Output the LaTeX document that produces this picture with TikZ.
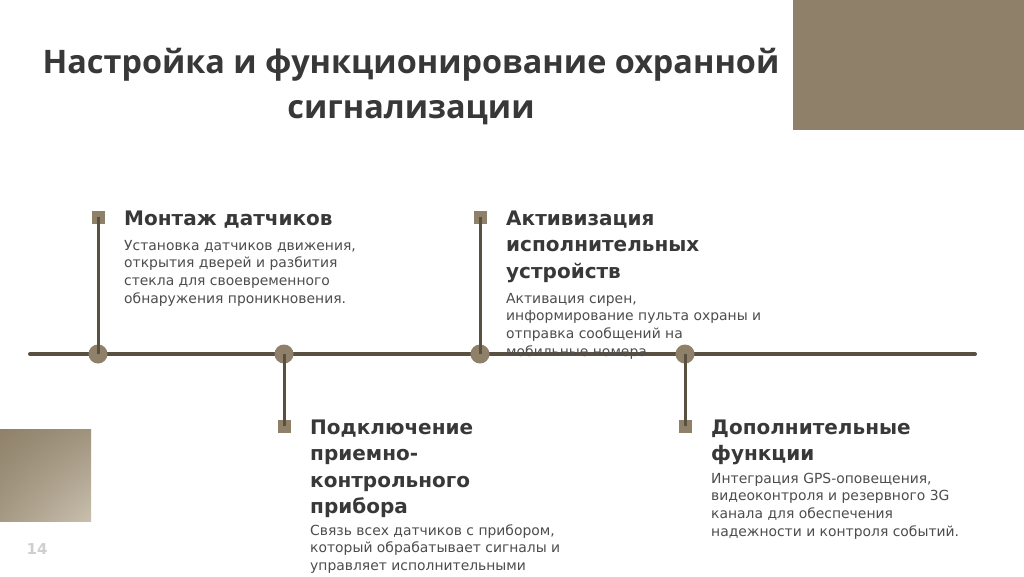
\documentclass[tikz,border=0pt]{standalone}
\usepackage{fontspec}
\setmainfont{DejaVu Sans}
\newfontfamily\titlefont{Open Sans}
\usetikzlibrary{shadings}
\definecolor{tan}{HTML}{8F8169}
\definecolor{tanlight}{HTML}{C8BFAE}
\definecolor{linebrown}{HTML}{5A5041}
\definecolor{headc}{HTML}{383838}
\definecolor{bodyc}{HTML}{4D4D4D}
\definecolor{pagec}{HTML}{CFCFCF}
\tikzset{
  mainline/.style={line width=4pt, draw=linebrown, line cap=round},
  stem/.style={line width=3pt, draw=linebrown},
  dot/.style={circle, fill=tan, minimum size=19pt, inner sep=0pt},
  sq/.style={rectangle, fill=tan, minimum size=13pt, inner sep=0pt},
  head/.style={anchor=base west, inner sep=0pt, align=left, text=headc,
    font=\fontsize{20}{26.5}\selectfont\bfseries},
  body/.style={anchor=base west, inner sep=0pt, align=left, text=bodyc,
    font=\fontsize{13.9}{17.7}\selectfont},
}
\begin{document}
\begin{tikzpicture}[x=1pt,y=-1pt]
\useasboundingbox (0,0) rectangle (1024,576);
\fill[white] (0,0) rectangle (1024,576);
% decorative blocks
\fill[tan] (793,0) rectangle (1024,130);
\shade[upper left=tan, lower right=tanlight, upper right=tan!70!tanlight, lower left=tan!60!tanlight] (0,429) rectangle (91,521);
\node[text=pagec, font=\fontsize{15}{18}\selectfont\bfseries] (page) at (37,549) {14};
% title (base anchor = baseline of last line)
\node[text=headc, font=\titlefont\fontsize{32.4}{45}\selectfont\bfseries, align=center, anchor=base, inner sep=0pt] (title) at (411,118) {Настройка и функционирование охранной\\сигнализации};
% timeline
\coordinate (L) at (30,354);
\coordinate (R) at (975,354);
\draw[mainline] (L) -- (R);
\node[dot] (d1) at (98,354) {};
\node[dot] (d2) at (284,354) {};
\node[dot] (d3) at (480,354) {};
\node[dot] (d4) at (685,354) {};
\node[sq] (s1) at (98,217) {};
\node[sq] (s2) at (284,426) {};
\node[sq] (s3) at (480,217) {};
\node[sq] (s4) at (685,426) {};
\draw[stem] (d1.center) -- (s1.center);
\draw[stem] (d2.center) -- (s2.center);
\draw[stem] (d3.center) -- (s3.center);
\draw[stem] (d4.center) -- (s4.center);
% texts (positions = baseline of last line)
\node[head] (h1) at (124,225) {Монтаж датчиков};
\node[body] (b1) at (124,303.1) {Установка датчиков движения,\\открытия дверей и разбития\\стекла для своевременного\\обнаружения проникновения.};
\node[head] (h3) at (506,278) {Активизация\\исполнительных\\устройств};
\node[body] (b3) at (506,356.1) {Активация сирен,\\информирование пульта охраны и\\отправка сообщений на\\мобильные номера.};
\node[head] (h2) at (310,513.5) {Подключение\\приемно-\\контрольного\\прибора};
\node[body] (b2) at (310,570.4) {Связь всех датчиков с прибором,\\который обрабатывает сигналы и\\управляет исполнительными};
\node[head] (h4) at (711,460.5) {Дополнительные\\функции};
\node[body] (b4) at (711,536.1) {Интеграция GPS-оповещения,\\видеоконтроля и резервного 3G\\канала для обеспечения\\надежности и контроля событий.};
\end{tikzpicture}
\end{document}
